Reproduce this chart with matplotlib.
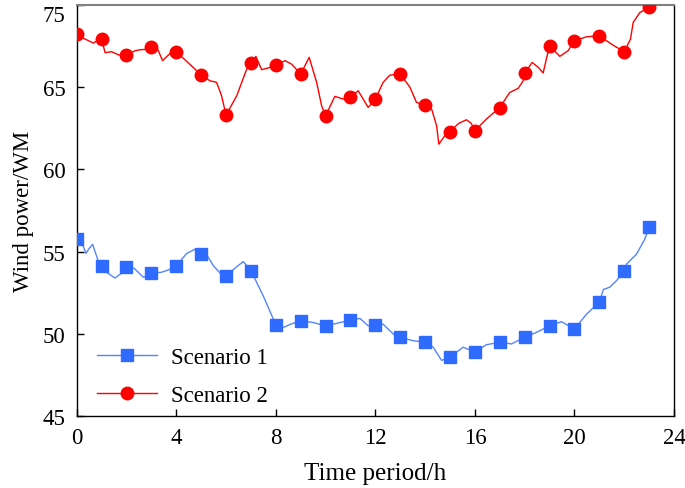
import numpy as np
import matplotlib.pyplot as plt

# hourly values (markers)
hours = np.arange(24)
scenario1 = [55.8, 54.15, 54.1, 53.7, 54.15, 54.85, 53.55, 53.85, 50.55, 50.8,
             50.5, 50.85, 50.55, 49.8, 49.5, 48.6, 48.9, 49.5, 49.8, 50.5,
             50.3, 51.95, 53.8, 56.5]
scenario2 = [68.2, 67.9, 66.95, 67.45, 67.15, 65.75, 63.3, 66.45, 66.35, 65.8,
             63.25, 64.4, 64.3, 65.8, 63.9, 62.3, 62.35, 63.75, 65.85, 67.5,
             67.8, 68.1, 67.15, 69.85]

# finer readings of the drawn curves (time in h)
t_curve1 = [0, 0.2, 0.37, 0.5, 0.64, 0.85, 1.0, 1.2, 1.54, 1.8, 2.0, 2.3, 2.68, 3.0,
            3.4, 3.7, 4.0, 4.42, 4.75, 5.0, 5.25, 5.49, 5.76, 6.0, 6.36, 6.69, 7.0,
            7.5, 8.0, 8.3, 8.6, 9.0, 9.5, 10.0, 10.45, 11.0, 11.38, 11.71, 12.0,
            12.31, 12.72, 13.0, 13.5, 14.0, 14.32, 14.66, 15.0, 15.53, 16.0, 16.46,
            17.0, 17.47, 18.0, 18.47, 19.0, 19.48, 20.0, 20.48, 21.0, 21.16, 21.42,
            21.69, 22.0, 22.09, 22.49, 22.82, 23.0]
s1_curve = [55.8, 55.6, 54.9, 55.2, 55.45, 54.5, 54.15, 53.75, 53.4, 53.7, 54.1,
            54.0, 53.45, 53.7, 53.75, 53.9, 54.15, 54.9, 55.15, 54.85, 54.75, 54.15,
            53.7, 53.55, 54.0, 54.4, 53.85, 52.3, 50.55, 50.4, 50.6, 50.8, 50.7,
            50.5, 50.65, 50.85, 50.95, 50.5, 50.55, 50.6, 50.0, 49.8, 49.6, 49.5,
            49.2, 48.4, 48.6, 49.2, 48.9, 49.35, 49.5, 49.4, 49.8, 50.1, 50.5,
            50.75, 50.3, 51.2, 51.95, 52.7, 52.85, 53.25, 53.8, 54.25, 54.85,
            55.75, 56.5]

t_curve2 = [0, 0.3, 0.67, 0.85, 1.0, 1.14, 1.41, 1.7, 2.0, 2.34, 2.54, 2.8, 3.0,
            3.19, 3.45, 3.75, 4.0, 4.5, 5.0, 5.35, 5.62, 5.82, 6.0, 6.43, 6.83, 7.0,
            7.2, 7.43, 7.76, 8.0, 8.37, 8.63, 9.0, 9.34, 9.64, 9.84, 10.0, 10.37,
            10.71, 11.0, 11.31, 11.71, 12.0, 12.31, 12.58, 13.0, 13.39, 13.65, 14.0,
            14.26, 14.46, 14.55, 14.79, 15.0, 15.35, 15.66, 15.85, 16.0, 16.46,
            17.0, 17.4, 17.74, 17.94, 18.0, 18.3, 18.55, 18.74, 18.87, 19.0, 19.41,
            19.74, 20.0, 20.48, 21.0, 21.5, 22.0, 22.25, 22.36, 22.63, 23.0]
s2_curve = [68.2, 67.95, 67.68, 67.85, 67.9, 67.1, 67.15, 66.95, 66.95, 67.21, 67.27,
            67.3, 67.46, 67.52, 66.61, 67.05, 67.15, 66.45, 65.74, 65.39, 65.29,
            64.48, 63.3, 64.48, 66.1, 66.44, 66.87, 66.06, 66.2, 66.34, 66.61, 66.4,
            65.8, 66.81, 65.29, 63.87, 63.26, 64.44, 64.28, 64.4, 64.78, 63.77,
            64.28, 65.29, 65.73, 65.8, 64.99, 64.08, 63.87, 63.67, 62.65, 61.54,
            62.05, 62.31, 62.8, 63.02, 62.8, 62.35, 63.06, 63.77, 64.68, 64.93,
            65.39, 65.86, 66.5, 66.2, 65.86, 66.71, 67.52, 66.87, 67.21, 67.82,
            68.06, 68.12, 67.6, 67.15, 67.92, 68.94, 69.54, 69.85]

y_ticks = [45, 50, 55, 60, 65, 70]
y_tick_labels = ["45", "50", "55", "60", "65", "75"]
x_ticks = [0, 4, 8, 12, 16, 20, 24]

plt.rcParams['font.family'] = ['Liberation Serif', 'DejaVu Serif']

fig = plt.figure(figsize=(6.85, 4.89), dpi=100)
ax = fig.add_axes([0.112, 0.1466, 0.872, 0.8414])

blue_line = "#5484ff"
blue_mark = "#2f6bff"
red = "#ff0000"

ax.plot(t_curve1, s1_curve, color=blue_line, lw=1.0, zorder=2)
ax.plot(hours, scenario1, ls="none", marker="s", ms=8.5, color=blue_mark, zorder=3)
ax.plot(t_curve2, s2_curve, color=red, lw=1.0, zorder=2)
ax.plot(hours, scenario2, ls="none", marker="o", ms=9, color=red, zorder=3)

# legend proxies
h1, = ax.plot([], [], color=blue_line, lw=1.0, marker="s", ms=8.5,
              mfc=blue_mark, mec=blue_mark)
h2, = ax.plot([], [], color=red, lw=1.0, marker="o", ms=9)
ax.legend([h1, h2], ["Scenario 1", "Scenario 2"], loc="lower left",
          bbox_to_anchor=(0.0, -0.025), frameon=False, fontsize=16.5,
          handlelength=2.6, handletextpad=0.6, labelspacing=0.75)

ax.set_xlim(0, 24)
ax.set_ylim(45, 70)
ax.set_xticks(x_ticks)
ax.set_yticks(y_ticks)
ax.set_yticklabels(y_tick_labels)
ax.tick_params(direction="in", length=5, width=1, labelsize=16.5)
ax.tick_params(axis="x", pad=8)
ax.tick_params(axis="y", pad=8)
# top label sits just under the frame edge, as in the original
ax.get_yticklabels()[-1].set_verticalalignment("top")

for side in ["left", "bottom", "right"]:
    ax.spines[side].set_color("black")
    ax.spines[side].set_linewidth(1.0)
ax.spines["top"].set_color("#808080")
ax.spines["top"].set_linewidth(1.5)

ax.set_xlabel("Time period/h", fontsize=18, labelpad=10)
ax.set_ylabel("Wind power/WM", fontsize=16.5, labelpad=6)

fig.savefig("out.png", dpi=100)
